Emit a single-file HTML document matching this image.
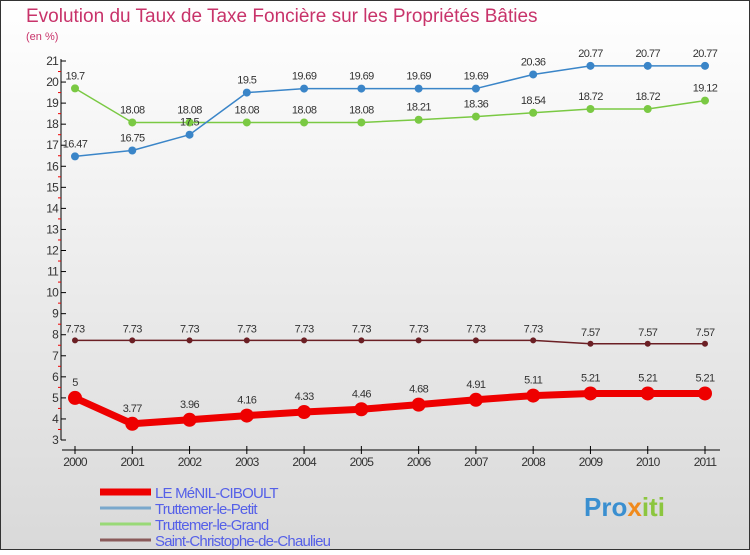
<!DOCTYPE html>
<html><head><meta charset="utf-8"><style>
body{margin:0;width:750px;height:550px;overflow:hidden;font-family:"Liberation Sans",sans-serif}
svg text{font-family:"Liberation Sans",sans-serif}
</style></head><body>
<svg id="c" width="750" height="550">
<defs><linearGradient id="bg" x1="0" y1="0" x2="0" y2="1"><stop offset="0" stop-color="#ffffff"/><stop offset="1" stop-color="#d9d9d9"/></linearGradient></defs>
<rect x="0.5" y="0.5" width="749" height="549" fill="url(#bg)" stroke="#333"/>
<text x="26" y="22" font-size="19" fill="#c8336a">Evolution du Taux de Taxe Foncière sur les Propriétés Bâties</text>
<text x="26" y="40" font-size="11" fill="#c8336a">(en %)</text>
<g id="axes"></g><g id="series"></g><g id="legend"></g>
<text x="584" y="516" font-size="26" font-weight="bold" fill="#3a8fd0">Pro<tspan fill="#f08a1c">x</tspan><tspan fill="#8cc63f">iti</tspan></text>
</svg>
<script>
const years=["2000","2001","2002","2003","2004","2005","2006","2007","2008","2009","2010","2011"];
const yTicks=[3,4,5,6,7,8,9,10,11,12,13,14,15,16,17,18,19,20,21];
const menil=[5,3.77,3.96,4.16,4.33,4.46,4.68,4.91,5.11,5.21,5.21,5.21];
const petit=[16.47,16.75,17.5,19.5,19.69,19.69,19.69,19.69,20.36,20.77,20.77,20.77];
const grand=[19.7,18.08,18.08,18.08,18.08,18.08,18.21,18.36,18.54,18.72,18.72,19.12];
const stchr=[7.73,7.73,7.73,7.73,7.73,7.73,7.73,7.73,7.73,7.57,7.57,7.57];
const NS="http://www.w3.org/2000/svg";
const X=i=>75+i*(630/11), Y=v=>440-(v-3)*(379/18);
function mk(p,t,a){const e=document.createElementNS(NS,t);for(const k in a)e.setAttribute(k,a[k]);p.appendChild(e);return e;}
const ax=document.getElementById('axes');
let e=mk(ax,'line',{x1:61,y1:59,x2:61,y2:440,stroke:'#000'});


e=mk(ax,'line',{x1:62,y1:450,x2:720,y2:450,stroke:'#000'});


yTicks.forEach(v=>{mk(ax,'line',{x1:61,y1:Y(v),x2:66,y2:Y(v),stroke:'#000'});
if(v<21)mk(ax,'line',{x1:58,y1:Y(v+0.5),x2:61,y2:Y(v+0.5),stroke:'#e00'});
const t=mk(ax,'text',{x:58,y:Y(v)+4,'font-size':12,'text-anchor':'end',fill:'#333','letter-spacing':'-0.8'});t.textContent=v;

});
years.forEach((y,i)=>{mk(ax,'line',{x1:X(i),y1:446,x2:X(i),y2:454,stroke:'#000'});
const t=mk(ax,'text',{x:X(i),y:466,'font-size':12,'text-anchor':'middle',fill:'#333','letter-spacing':'-0.8'});t.textContent=y;

});
const sg=document.getElementById('series');
function series(d,col,w,r,name){const g=mk(sg,'g',{});


mk(g,'polyline',{points:d.map((v,i)=>X(i)+','+Y(v)).join(' '),fill:'none',stroke:col,'stroke-width':w,'stroke-linejoin':'round'});
d.forEach((v,i)=>{const c=mk(g,'circle',{cx:X(i),cy:Y(v),r:r,fill:col});


const t=mk(g,'text',{x:X(i),y:Y(v)-(r+5),'font-size':11,'text-anchor':'middle',fill:'#333','letter-spacing':'-0.6'});t.textContent=v;

});}
series(grand,'#7ac943',1.5,4,'series-truttemer-le-grand');
series(petit,'#3a85c8',1.5,4,'series-truttemer-le-petit');
series(stchr,'#6b1f24',1.5,3,'series-saint-christophe');
series(menil,'#ee0000',7,7,'series-le-menil-ciboult');
const lg=document.getElementById('legend');
[["LE MéNIL-CIBOULT","#ee0000",7],["Truttemer-le-Petit","#7aa8cc",3],["Truttemer-le-Grand","#99d977",3],["Saint-Christophe-de-Chaulieu","#8a5a5a",3]].forEach((l,i)=>{
const y=492+i*16;const g=mk(lg,'g',{});


mk(g,'line',{x1:100,y1:y,x2:151,y2:y,stroke:l[1],'stroke-width':l[2]});
const t=mk(g,'text',{x:155,y:y+6,'font-size':15,fill:'#5560e8','letter-spacing':'-0.8'});t.textContent=l[0];});
</script>
</body></html>
